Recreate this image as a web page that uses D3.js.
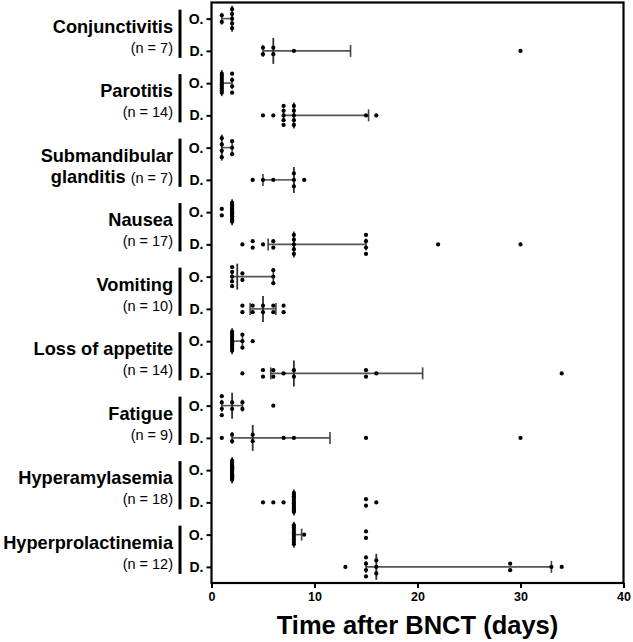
<!DOCTYPE html>
<html>
<head>
<meta charset="utf-8">
<script src="https://cdn.jsdelivr.net/npm/d3@7"></script>
<style>
  html, body { margin: 0; padding: 0; background: #fff; }
  svg { display: block; font-family: "Liberation Sans", Arial, Helvetica, sans-serif; }
</style>
</head>
<body>
<svg id="chart" width="633" height="642"></svg>
<script>
// ---------- DATA ----------
const categories = ["Conjunctivitis", "Parotitis", "Submandibular glanditis", "Nausea", "Vomiting",
  "Loss of appetite", "Fatigue", "Hyperamylasemia", "Hyperprolactinemia"];
const counts = [7, 14, 7, 17, 10, 14, 9, 18, 12];
const rowTypes = ["O.", "D."];
const xTicks = [0, 10, 20, 30, 40];
const xTitle = "Time after BNCT (days)";

// Onset (days) per event
const onsetValues = [
  [1, 1, 2, 2, 2, 2, 2],
  [1, 1, 1, 1, 1, 1, 1, 1, 1, 1, 2, 2, 2, 2],
  [1, 1, 1, 1, 2, 2, 2],
  [1, 1, 2, 2, 2, 2, 2, 2, 2, 2, 2, 2, 2, 2, 2, 2, 2],
  [2, 2, 2, 2, 2, 3, 3, 6, 6, 6],
  [2, 2, 2, 2, 2, 2, 2, 2, 2, 2, 3, 3, 3, 4],
  [1, 1, 1, 1, 2, 2, 3, 3, 6],
  [2, 2, 2, 2, 2, 2, 2, 2, 2, 2, 2, 2, 2, 2, 2, 2, 2, 2],
  [8, 8, 8, 8, 8, 8, 8, 8, 8, 9, 15, 15]
];
// Duration (days) per event
const durationValues = [
  [5, 5, 6, 6, 8, 30],
  [5, 6, 7, 7, 7, 7, 7, 8, 8, 8, 8, 8, 15, 16],
  [4, 5, 6, 8, 8, 8, 9],
  [3, 4, 4, 5, 6, 6, 8, 8, 8, 8, 8, 15, 15, 15, 15, 22, 30],
  [3, 3, 4, 4, 5, 5, 6, 6, 7, 7],
  [3, 5, 5, 6, 6, 7, 8, 8, 15, 15, 16, 34],
  [1, 2, 2, 4, 4, 7, 8, 15, 30],
  [5, 6, 7, 8, 8, 8, 8, 8, 8, 8, 8, 8, 8, 8, 8, 15, 15, 16],
  [13, 15, 15, 15, 15, 16, 16, 16, 29, 29, 33, 34]
];
// [Q1, median, Q3]
const onsetStats = [
  [1, 2, 2], [1, 1, 2], [1, 1, 2], [2, 2, 2], [2, 2.5, 6],
  [2, 2, 3], [1, 2, 3], [2, 2, 2], [8, 8, 8.75]
];
const durationStats = [
  [5, 6, 13.5], [7, 8, 15.25], [5, 8, 8], [5.5, 8, 15], [3.75, 5, 6.25],
  [5.75, 8, 20.5], [2, 4, 11.5], [8, 8, 8], [15, 16, 33]
];

// ---------- LAYOUT ----------
const svg = d3.select("#chart");
const plot = { left: 211.5, right: 623.5, top: 2.5, bottom: 583 };

const rows = [];
categories.forEach((c, i) => {
  rows.push({ id: i + "-O", cat: i, type: 0, values: onsetValues[i], stats: onsetStats[i] });
  rows.push({ id: i + "-D", cat: i, type: 1, values: durationValues[i], stats: durationStats[i] });
});

const x = d3.scaleLinear().domain([0, 40]).range([plot.left, plot.right]);
const y = d3.scalePoint().domain(rows.map(r => r.id)).range([plot.top, plot.bottom]).padding(0.5);

// frame
svg.append("rect")
  .attr("x", plot.left).attr("y", plot.top)
  .attr("width", plot.right - plot.left).attr("height", plot.bottom - plot.top)
  .attr("fill", "none").attr("stroke", "#000").attr("stroke-width", 2.2);

// x axis
const xAxis = svg.append("g")
  .attr("transform", `translate(0,${plot.bottom})`)
  .call(d3.axisBottom(x).tickValues(xTicks).tickSize(5).tickPadding(4));
xAxis.select(".domain").remove();
xAxis.selectAll(".tick line").attr("stroke", "#000").attr("stroke-width", 2);
xAxis.selectAll(".tick text")
  .attr("font-size", 12.5).attr("font-weight", "bold").attr("fill", "#000")
  .attr("font-family", "'Liberation Sans', Arial, sans-serif");

// y axis
const yAxis = svg.append("g")
  .attr("transform", `translate(${plot.left},0)`)
  .call(d3.axisLeft(y).tickSize(5).tickPadding(3)
    .tickFormat(id => rowTypes[rows.find(r => r.id === id).type]));
yAxis.select(".domain").remove();
yAxis.selectAll(".tick line").attr("stroke", "#000").attr("stroke-width", 2);
yAxis.selectAll(".tick text")
  .attr("font-size", 14).attr("font-weight", "bold").attr("fill", "#000")
  .attr("font-family", "'Liberation Sans', Arial, sans-serif");

// x title
svg.append("text")
  .attr("x", (plot.left + plot.right) / 2).attr("y", 634)
  .attr("text-anchor", "middle")
  .attr("font-size", 25.5).attr("font-weight", "bold")
  .text(xTitle);

// group labels and brackets
const labelX = 173;
categories.forEach((c, i) => {
  const yO = y(i + "-O"), yD = y(i + "-D");
  svg.append("rect")
    .attr("x", 178.5).attr("y", yO - 9)
    .attr("width", 3).attr("height", yD - yO + 16)
    .attr("fill", "#000");
  if (c === "Submandibular glanditis") {
    svg.append("text").attr("x", labelX).attr("y", yO + 14)
      .attr("text-anchor", "end").attr("font-size", 18.2).attr("font-weight", "bold")
      .text("Submandibular");
    const t = svg.append("text").attr("x", labelX).attr("y", yD + 3).attr("text-anchor", "end");
    t.append("tspan").attr("font-size", 18.2).attr("font-weight", "bold").text("glanditis ");
    t.append("tspan").attr("font-size", 14.5).text(`(n = ${counts[i]})`);
  } else {
    svg.append("text").attr("x", labelX).attr("y", yO + 14)
      .attr("text-anchor", "end").attr("font-size", 18.2).attr("font-weight", "bold")
      .text(c);
    svg.append("text").attr("x", labelX).attr("y", yD + 2)
      .attr("text-anchor", "end").attr("font-size", 14.5)
      .text(`(n = ${counts[i]})`);
  }
});

// statistics lines
const g = svg.append("g");
rows.forEach(r => {
  const yc = y(r.id);
  const [q1, med, q3] = r.stats;
  g.append("line")
    .attr("x1", x(q1)).attr("x2", x(q3)).attr("y1", yc).attr("y2", yc)
    .attr("stroke", "#555").attr("stroke-width", 1.6);
  [q1, q3].forEach(v => {
    g.append("line")
      .attr("x1", x(v)).attr("x2", x(v)).attr("y1", yc - 6).attr("y2", yc + 6)
      .attr("stroke", "#444").attr("stroke-width", 1.6);
  });
  g.append("line")
    .attr("x1", x(med)).attr("x2", x(med)).attr("y1", yc - 13).attr("y2", yc + 13)
    .attr("stroke", "#333").attr("stroke-width", 1.8);
});

// dots (stacked vertically where values coincide)
rows.forEach(r => {
  const yc = y(r.id);
  const groups = d3.rollups(r.values, v => v.length, d => d);
  groups.forEach(([val, k]) => {
    const s = k > 1 ? Math.min(6.5, 19 / (k - 1)) : 0;
    for (let j = 0; j < k; j++) {
      svg.append("circle")
        .attr("cx", x(val))
        .attr("cy", yc + (j - (k - 1) / 2) * s)
        .attr("r", 2.1)
        .attr("fill", "#000");
    }
  });
});
</script>
</body>
</html>
